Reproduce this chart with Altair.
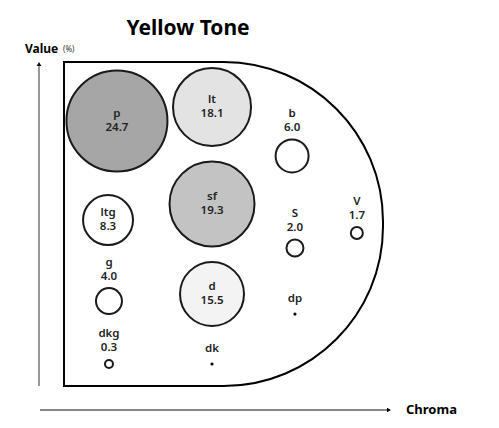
import altair as alt
import numpy as np
import pandas as pd

# ---------------- data ----------------
tones = ["p", "lt", "b", "sf", "ltg", "S", "V", "g", "d", "dp", "dkg", "dk"]
shares = [24.7, 18.1, 6.0, 19.3, 8.3, 2.0, 1.7, 4.0, 15.5, None, 0.3, None]
chroma_pos = [1.66, 4.64, 7.15, 4.64, 1.38, 7.24, 9.18, 1.41, 4.64, 7.24, 1.41, 4.64]
value_pos = [8.18, 8.61, 7.10, 5.62, 5.12, 4.26, 4.72, 2.62, 2.84, 2.22, 0.68, 0.68]

title_text = "Yellow Tone"
x_title = "Chroma"
y_title = "Value"
y_unit = "(%)"

# tone space (chroma 0..10, value 0..10)
space_chroma = [0, 10]
space_value = [0, 10]

# ---------------- style ----------------
fill_colors = {"p": "#a6a6a6", "sf": "#c3c3c3", "lt": "#e3e3e3", "d": "#f3f3f3"}
size_domain = [0.3, 1.7, 2.0, 4.0, 6.0, 8.3, 15.5, 18.1, 19.3, 24.7]
diam_range = [8, 12, 17, 26, 33, 50, 64, 78, 85, 101]
FONT = "Noto Sans"
INK = "#1a1a1a"
LINE_GAP = 7.0               # half the spacing between name and value lines (px)

W, H = 483, 410
KX, KY = 31.9, 32.4          # pixels per tone-space unit
OX, OY = 56, 378             # chart pixel of tone-space origin
x_scale = alt.Scale(domain=[-OX / KX, (W - OX) / KX], nice=False, zero=False)
y_scale = alt.Scale(domain=[(OY - H) / KY, OY / KY], nice=False, zero=False)

# ---------------- tables ----------------
df = pd.DataFrame({"tone": tones, "share": shares, "cx": chroma_pos, "cy": value_pos})
diam = np.interp(df["share"].fillna(0), size_domain, diam_range)
r_out = diam / 2 + 1
inside = (diam >= 45) & df["share"].notna()
offset_px = np.where(df["share"].isna(), 8.0, np.where(inside, 0.0, r_out + 17.5))
df["ly"] = df["cy"] + offset_px / KY

circles = df[df["share"].notna()]
dots = df[df["share"].isna()]

fill_domain = tones
fill_range = [fill_colors.get(t, "#ffffff") for t in tones]

X = lambda f: alt.X(f, type="quantitative", scale=x_scale, axis=None)
Y = lambda f: alt.Y(f, type="quantitative", scale=y_scale, axis=None)

frame_df = pd.DataFrame({"x0": [space_chroma[0]], "x1": [space_chroma[1]],
                         "y0": [space_value[0]], "y1": [space_value[1]]})
frame = alt.Chart(frame_df).mark_rect(
    fill="white", stroke="black", strokeWidth=2,
    cornerRadiusTopRight=162, cornerRadiusBottomRight=162
).encode(x=X("x0"), x2="x1", y=Y("y0"), y2="y1")

bubble = alt.Chart(circles).mark_circle(
    stroke=INK, strokeWidth=2, opacity=1, fillOpacity=1
).encode(
    x=X("cx"), y=Y("cy"),
    fill=alt.Fill("tone:N", scale=alt.Scale(domain=fill_domain, range=fill_range), legend=None),
    size=alt.Size("share:Q", scale=alt.Scale(type="linear", domain=size_domain,
                                             range=[d * d for d in diam_range],
                                             zero=False, nice=False), legend=None),
)

dot = alt.Chart(dots).mark_circle(size=10, color="black", opacity=1).encode(x=X("cx"), y=Y("cy"))

name_lbl = alt.Chart(df).mark_text(
    font=FONT, fontSize=11.5, fontWeight=600, color="#222", dy=-LINE_GAP, baseline="middle"
).encode(x=X("cx"), y=Y("ly"), text="tone:N")

val_lbl = alt.Chart(circles).mark_text(
    font=FONT, fontSize=11.5, fontWeight=600, color="#222", dy=LINE_GAP, baseline="middle"
).encode(x=X("cx"), y=Y("ly"), text=alt.Text("share:Q", format=".1f"))

# ---------------- axes as arrows ----------------
ax_x = (39 - 64) / KX
ax_y = (386 - 410) / KY
y_rule_df = pd.DataFrame({"x": [ax_x], "y": [space_value[0]], "y2": [(386 - 66) / KY]})
x_rule_df = pd.DataFrame({"x": [(40 - 64) / KX], "x2": [(387 - 64) / KX], "y": [ax_y]})

y_rule = alt.Chart(y_rule_df).mark_rule(color="#7f7f7f", strokeWidth=1.6).encode(
    x=X("x"), y=Y("y"), y2="y2")
x_rule = alt.Chart(x_rule_df).mark_rule(color="#111", strokeWidth=1.2).encode(
    x=X("x"), x2="x2", y=Y("y"))
y_head = alt.Chart(pd.DataFrame({"x": [ax_x], "y": [(386 - 64) / KY]})).mark_point(
    shape="triangle-up", filled=True, color="black", size=22, opacity=1).encode(x=X("x"), y=Y("y"))
x_head = alt.Chart(pd.DataFrame({"x": [(389 - 64) / KX], "y": [ax_y]})).mark_point(
    shape="triangle-right", filled=True, color="black", size=22, opacity=1).encode(x=X("x"), y=Y("y"))

title = alt.Chart(pd.DataFrame({"t": [title_text], "x": [(188 - 64) / KX], "y": [(386 - 29) / KY]})).mark_text(
    font=FONT, fontSize=21, fontWeight="bold", color="black", align="center", baseline="middle"
).encode(x=X("x"), y=Y("y"), text="t:N")

ytitle = alt.Chart(pd.DataFrame({"t": [y_title], "x": [(25 - 64) / KX], "y": [(386 - 49) / KY]})).mark_text(
    font=FONT, fontSize=12, fontWeight="bold", color="black", align="left", baseline="middle"
).encode(x=X("x"), y=Y("y"), text="t:N")

yunit = alt.Chart(pd.DataFrame({"t": [y_unit], "x": [(63 - 64) / KX], "y": [(386 - 50) / KY]})).mark_text(
    font=FONT, fontSize=8, color="#333", align="left", baseline="middle"
).encode(x=X("x"), y=Y("y"), text="t:N")

xtitle = alt.Chart(pd.DataFrame({"t": [x_title], "x": [(406 - 64) / KX], "y": [ax_y]})).mark_text(
    font=FONT, fontSize=13, fontWeight="bold", color="black", align="left", baseline="middle"
).encode(x=X("x"), y=Y("y"), text="t:N")

chart = alt.layer(
    frame, bubble, dot, name_lbl, val_lbl,
    y_rule, x_rule, y_head, x_head, title, ytitle, yunit, xtitle
).properties(
    width=W, height=H, autosize=alt.AutoSizeParams(type="none"), padding=0, background="white"
).configure_view(stroke=None)

chart.save("out.html", embed_options={"renderer": "svg", "actions": False})
